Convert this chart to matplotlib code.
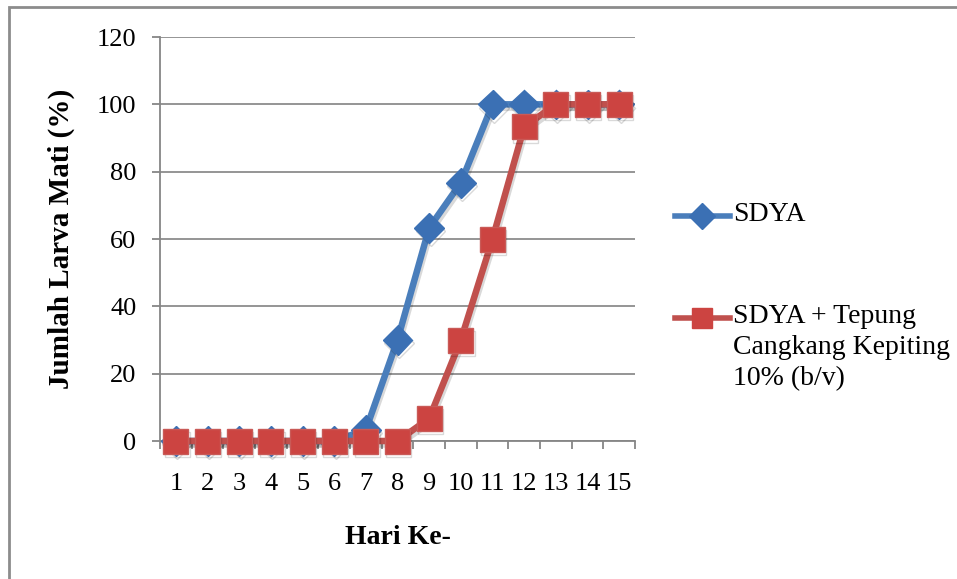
import matplotlib
matplotlib.use("Agg")
import matplotlib.pyplot as plt
import matplotlib.patheffects as pe
from matplotlib.lines import Line2D
from matplotlib.patches import Rectangle
import numpy as np

days = list(range(1, 16))
sdya = [0, 0, 0, 0, 0, 0, 3.3, 30, 63.3, 76.7, 100, 100, 100, 100, 100]
sdya_kepiting = [0, 0, 0, 0, 0, 0, 0, 0, 6.7, 30, 60, 93.3, 100, 100, 100]
y_ticks = [0, 20, 40, 60, 80, 100, 120]
labels = ["SDYA", "SDYA + Tepung\nCangkang Kepiting\n10% (b/v)"]

plt.rcParams["font.family"] = ["Liberation Serif", "DejaVu Serif"]

W, H = 957, 579
fig = plt.figure(figsize=(W / 100, H / 100), dpi=100)
ax = fig.add_axes([160 / W, 1 - 441 / H, 475 / W, 404 / H])

# bingkai luar grafik (hanya sisi atas dan kiri yang tampak)
fig.patches.append(Rectangle((9 / W, -0.1), 1.1, 1 - 7 / H + 0.1, transform=fig.transFigure,
                             fill=False, edgecolor="#8c8c8c", linewidth=2))

shadow = [pe.SimpleLineShadow(offset=(1, -2.5), alpha=0.15, shadow_color="black"), pe.Normal()]

blue, blue_mk = "#4a7ebb", "#3b70b4"
red, red_mk = "#c0504d", "#cc4441"

ax.plot(days, sdya, color=blue, linewidth=4.7, marker="D", markersize=15,
        markerfacecolor=blue_mk, markeredgecolor=blue_mk, clip_on=False,
        path_effects=shadow, zorder=3)
ax.plot(days, sdya_kepiting, color=red, linewidth=4.7, marker="s", markersize=18,
        markerfacecolor=red_mk, markeredgecolor="#c95a57", markeredgewidth=1,
        clip_on=False, path_effects=shadow, zorder=4)

ax.set_xlim(0.5, 15.5)
ax.set_ylim(0, 120)
ax.set_yticks(y_ticks)
ax.set_xticks(days)
ax.set_xticks(np.arange(0.5, 15.6, 1), minor=True)
ax.tick_params(axis="x", which="major", length=0, pad=23, labelsize=19)
ax.tick_params(axis="x", which="minor", length=6, color="#868686", width=1.3)
ax.tick_params(axis="y", length=6, color="#868686", width=1.3, pad=11, labelsize=19)

ax.grid(axis="y", color="#8c8c8c", linewidth=1.3)
ax.set_axisbelow(True)
for side in ("top", "right"):
    ax.spines[side].set_visible(False)
for side in ("left", "bottom"):
    ax.spines[side].set_color("#868686")
    ax.spines[side].set_linewidth(1.3)

ax.set_xlabel("Hari Ke-", fontsize=20, fontweight="bold", labelpad=22)
ax.set_ylabel("Jumlah Larva Mati (%)", fontsize=21, fontweight="bold", labelpad=16)

# legenda: simbol sejajar dengan baris pertama teks
legend_rows = [
    (labels[0], blue, "D", blue_mk, 13, 216),
    (labels[1], red, "s", red_mk, 14, 318),
]
for text, lc, mk, mc, ms, y in legend_rows:
    fy = 1 - y / H
    fig.add_artist(Line2D([675 / W, 730 / W], [fy, fy], transform=fig.transFigure,
                          color=lc, linewidth=4))
    fig.add_artist(Line2D([702 / W], [fy], transform=fig.transFigure,
                          marker=mk, markersize=ms, markerfacecolor=mc,
                          markeredgecolor=mc, linestyle="none"))
    fig.text(733 / W, 1 - (y - 14) / H, text, fontsize=20, va="top", ha="left",
             linespacing=1.33, transform=fig.transFigure)

fig.savefig("out.png", dpi=100)
